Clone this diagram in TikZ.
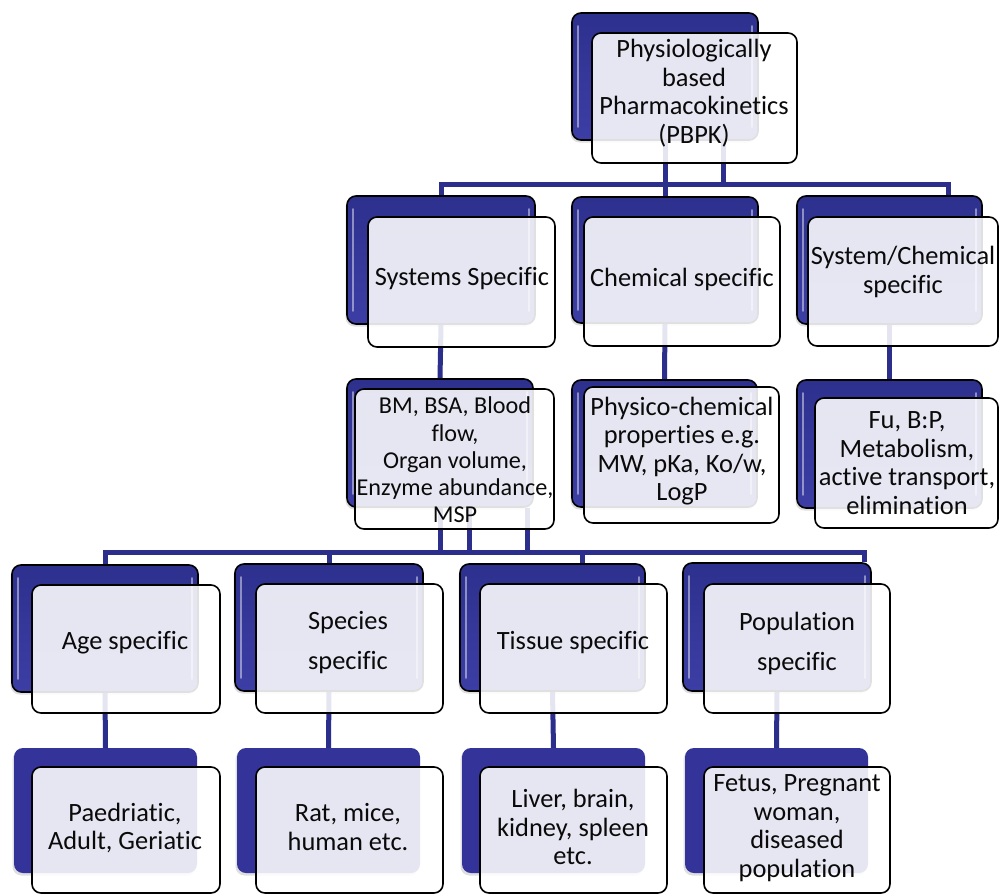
\documentclass[tikz,border=0pt]{standalone}
\usepackage{fontspec}
\setmainfont[Ligatures={NoCommon}]{Carlito}
\usetikzlibrary{fit,shadows}
\definecolor{navy}{RGB}{44,46,140}
\definecolor{cardblue}{RGB}{51,51,153}
\definecolor{bluetop}{RGB}{46,48,142}
\definecolor{bluemid}{RGB}{72,74,178}
\definecolor{bluebot}{RGB}{60,62,165}
\definecolor{ink}{RGB}{10,10,10}
\begin{document}
\begin{tikzpicture}[x=1pt,y=-1pt,
  conn/.style={draw=navy, line width=5pt},
  backbox/.style={rounded corners=9pt, draw=black, line width=1.6pt,
    top color=bluetop, middle color=bluemid, bottom color=bluebot, inner sep=0pt,
    drop shadow={opacity=0.25, shadow xshift=-1.5pt, shadow yshift=-2.5pt}},
  flatbox/.style={rounded corners=9pt, fill=cardblue, inner sep=0pt,
    drop shadow={opacity=0.25, shadow xshift=-1.5pt, shadow yshift=-2.5pt}},
  frontbox/.style={rounded corners=9pt, draw=black, line width=1.6pt,
    fill=white, fill opacity=0.88, inner sep=0pt},
  txt/.style={align=center, text=ink, inner sep=0pt,
    font=\fontsize{26.4}{28.5}\selectfont},
  smalltxt/.style={txt, font=\fontsize{24.2}{27.3}\selectfont},
  widetxt/.style={txt, font=\fontsize{26.4}{40}\selectfont},
  hl/.style={draw=white, draw opacity=0.45, line width=2.5pt, line cap=round}]

\useasboundingbox[fill=white] (0,0) rectangle (999,894);

% ---- back cards (level 0 to 2 with gloss, level 3 flat) ----
\node[backbox, fit={(572,13) (758,140)}]  (b0) {};
\node[backbox, fit={(347,196) (535,324)}] (b1) {};
\node[backbox, fit={(572,197) (758,323)}] (b2) {};
\node[backbox, fit={(797,196) (982,324)}] (b3) {};
\node[backbox, fit={(347,379) (533,507)}] (b4) {};
\node[backbox, fit={(572,380) (757,507)}] (b5) {};
\node[backbox, fit={(797,380) (982,508)}] (b6) {};
\node[backbox, fit={(12,565) (198,692)}]  (b7) {};
\node[backbox, fit={(235,564) (423,691)}] (b8) {};
\node[backbox, fit={(460,564) (645,691)}] (b9) {};
\node[backbox, fit={(683,563) (871,691)}] (b10) {};
\node[flatbox, fit={(14,748) (197,873)}]  (b11) {};
\node[flatbox, fit={(237,748) (420,873)}] (b12) {};
\node[flatbox, fit={(462,748) (645,873)}] (b13) {};
\node[flatbox, fit={(685,748) (868,873)}] (b14) {};

% glossy side strips on the shaded cards
\foreach \n in {b0,b1,b2,b3,b4,b5,b6,b7,b8,b9,b10}{
  \draw[hl] ([shift={(7pt,-14pt)}]\n.north west) -- ([shift={(7pt,14pt)}]\n.south west);
  \draw[hl] ([shift={(-7pt,-14pt)}]\n.north east) -- ([shift={(-7pt,14pt)}]\n.south east);
}

% ---- connectors ----
\draw[conn] (b0.south) -- (b2.north);
\draw[conn] ([xshift=58pt]b0.south) -- ++(0,45);
\draw[conn] (b1.north) -- ++(0,-11) -| ([xshift=58.5pt]b3.north);
\draw[conn] (b1.south) -- (b4.north);
\draw[conn] (b2.south) -- (b5.north);
\draw[conn] (b3.south) -- (b6.north);
\draw[conn] (b4.south) -- ++(0,46);
\draw[conn] ([xshift=29pt]b4.south) -- ++(0,46);
\draw[conn] ([xshift=87pt]b4.south) -- ++(0,46);
\draw[conn] (b7.north) -- ++(0,-12) -| ([xshift=87pt]b10.north);
\draw[conn] (b8.north) -- ++(0,-11);
\draw[conn] ([xshift=29.5pt]b9.north) -- ++(0,-11);
\draw[conn] (b7.south) -- (b11.north);
\draw[conn] (b8.south) -- (b12.north);
\draw[conn] (b9.south) -- (b13.north);
\draw[conn] (b10.south) -- (b14.north);

% ---- front cards ----
\node[frontbox, fit={(592,33) (797,163)}]  (f0) {};
\node[frontbox, fit={(368,217) (555,347)}] (f1) {};
\node[frontbox, fit={(584,217) (780,346)}] (f2) {};
\node[frontbox, fit={(808,217) (998,346)}] (f3) {};
\node[frontbox, fit={(355,389) (554,529)}] (f4) {};
\node[frontbox, fit={(584,387) (779,523)}] (f5) {};
\node[frontbox, fit={(815,398) (998,528)}] (f6) {};
\node[frontbox, fit={(32,585) (220,713)}]  (f7) {};
\node[frontbox, fit={(256,584) (443,713)}] (f8) {};
\node[frontbox, fit={(480,584) (667,713)}] (f9) {};
\node[frontbox, fit={(704,584) (890,713)}] (f10) {};
\node[frontbox, fit={(32,767) (220,893)}]  (f11) {};
\node[frontbox, fit={(256,767) (443,893)}] (f12) {};
\node[frontbox, fit={(480,767) (667,893)}] (f13) {};
\node[frontbox, fit={(704,767) (890,893)}] (f14) {};

% ---- labels ----
\node[txt] (t0) at (694,93) {Physiologically\\based\\Pharmacokinetics\\(PBPK)};
\node[txt] (t1) at (462,279) {Systems Specific};
\node[txt] (t2) at (682,279) {Chemical specific};
\node[txt] (t3) at (903,272) {System/Chemical\\specific};
\node[smalltxt] (t4) at (455,460) {BM, BSA, Blood\\flow,\\Organ volume,\\Enzyme abundance,\\MSP};
\node[txt] (t5) at (682,451) {Physico-chemical\\properties e.g.\\MW, pKa, Ko/w,\\LogP};
\node[txt] (t6) at (907,463) {Fu, B:P,\\Metabolism,\\active transport,\\elimination};
\node[txt] (t7) at (125,643) {Age specific};
\node[widetxt] (t8) at (348,643) {Species\\specific};
\node[txt] (t9) at (573,643) {Tissue specific};
\node[widetxt] (t10) at (797,643) {Population\\specific};
\node[txt] (t11) at (125,828) {Paedriatic,\\Adult, Geriatic};
\node[txt] (t12) at (348,827) {Rat, mice,\\human etc.};
\node[txt] (t13) at (573,827) {Liver, brain,\\kidney, spleen\\etc.};
\node[txt] (t14) at (797,828) {Fetus, Pregnant\\woman,\\diseased\\population};
\end{tikzpicture}
\end{document}
